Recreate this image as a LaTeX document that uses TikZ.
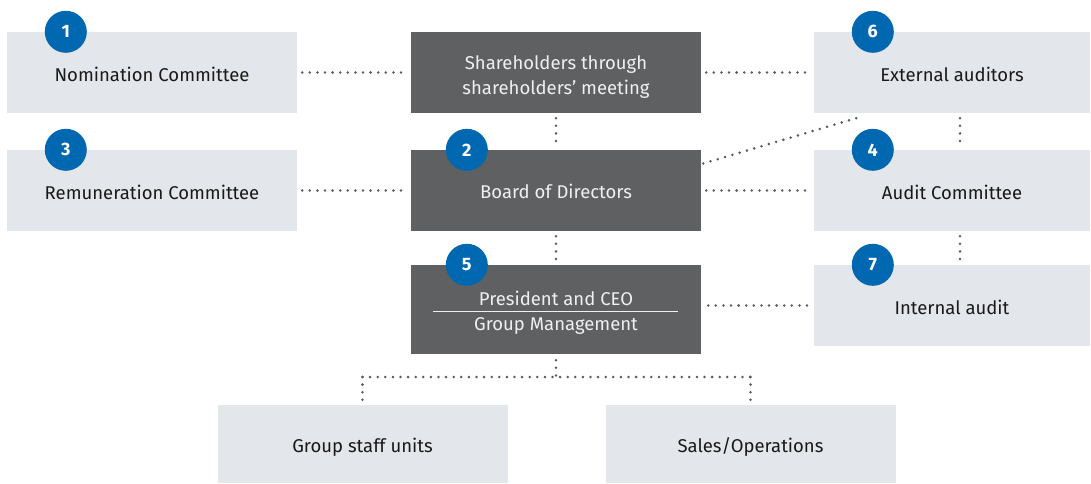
\documentclass[tikz,border=0pt]{standalone}
\usepackage{fontspec}
\setmainfont{Fira Sans}
\usetikzlibrary{positioning}
\definecolor{boxgray}{HTML}{E3E6EB}
\definecolor{darkgray}{HTML}{5F6062}
\definecolor{numblue}{HTML}{0067B1}
\definecolor{dotgray}{HTML}{525A66}
\tikzset{
  lightbox/.style={fill=boxgray, minimum width=290pt, minimum height=81pt, inner sep=0pt, text height=17pt, text depth=0pt, font=\fontsize{18.5}{22}\selectfont, text=black!90},
  darkbox/.style={fill=darkgray, minimum width=290pt, minimum height=81pt, inner sep=0pt, text height=16pt, text depth=0pt, align=center, font=\fontsize{18.5}{25}\selectfont, text=white!94!black},
  num/.style={circle, fill=numblue, minimum size=42pt, inner sep=0pt, text=white, font=\bfseries\fontsize{18}{18}\selectfont},
  dots/.style={dotgray, line width=2.8pt, line cap=round, dash pattern=on 0pt off 7.6pt}
}
\begin{document}
\begin{tikzpicture}[x=1pt, y=-1pt]
    \useasboundingbox (0, 0) rectangle (1091, 483);
    % boxes
    \node[lightbox] (nom) at (152, 72.5) {Nomination Committee};
    \node[lightbox] (rem) at (152, 190.5) {Remuneration Committee};
    \node[darkbox, text height=43pt] (share) at (556, 72.5) {Shareholders through\\shareholders' meeting};
    \node[darkbox] (board) at (556, 190.5) {Board of Directors};
    \node[darkbox, minimum height=89pt] (pres) at (556, 309.5) {};
    \node[text=white!94!black, font=\fontsize{18.5}{22}\selectfont, anchor=base] (ceo) at (556, 305) {President and CEO};
    \node[text=white!94!black, font=\fontsize{18.5}{22}\selectfont, anchor=base] (mgmt) at (556, 330) {Group Management};
    \draw[white!94!black, line width=1pt] (433, 311) -- (678, 311);
    \node[lightbox, minimum width=276pt] (ext) at (952, 72.5) {External auditors};
    \node[lightbox, minimum width=276pt] (audit) at (952, 190.5) {Audit Committee};
    \node[lightbox, minimum width=276pt] (int) at (952, 305.5) {Internal audit};
    \node[lightbox, minimum height=78pt] (staff) at (362.5, 444) {Group staff units};
    \node[lightbox, minimum height=78pt] (sales) at (750.5, 444) {Sales/Operations};

    % connectors
    \draw[dots, shorten <=5pt, shorten >=3pt] (nom) -- (share);
    \draw[dots, shorten <=5pt, shorten >=5pt] (share) -- (ext);
    \draw[dots, shorten <=5pt, shorten >=3pt] (rem) -- (board);
    \draw[dots, shorten <=5pt, shorten >=5pt] (board) -- (audit);
    \draw[dots, shorten <=5pt, shorten >=5pt] (share) -- (board);
    \draw[dots, shorten <=5pt, shorten >=5pt] (board) -- (556, 265);
    \draw[dots, shorten <=5pt, shorten >=5pt] (ext.south -| 960, 0) -- (audit.north -| 960, 0);
    \draw[dots, shorten <=5pt, shorten >=5pt] (audit.south -| 960, 0) -- (int.north -| 960, 0);
    \coordinate (diagA) at ([shift={(2,-27)}]board.east);
    \coordinate (diagB) at ([shift={(49,3)}]ext.south west);
    \draw[dots] (diagA) -- (diagB);
    \draw[dots, shorten <=7pt, shorten >=4pt] (pres.east |- int) -- (int.west);
    \coordinate (branch) at (556, 377);
    \draw[dots, shorten <=6pt] (pres.south) -- (branch);
    \draw[dots] (staff.north |- branch) -- (sales.north |- branch);
    \draw[dots, shorten >=5pt] (staff.north |- branch) -- (staff.north);
    \draw[dots, shorten >=5pt] (sales.north |- branch) -- (sales.north);

    % numbers
    \node[num] (n1) at ([xshift=59pt]nom.north west) {1};
    \node[num] (n3) at ([xshift=59pt]rem.north west) {3};
    \node[num] (n2) at ([xshift=56pt]board.north west) {2};
    \node[num] (n5) at ([xshift=56pt]pres.north west) {5};
    \node[num] (n6) at ([xshift=59pt]ext.north west) {6};
    \node[num] (n4) at ([xshift=59pt]audit.north west) {4};
    \node[num] (n7) at ([xshift=59pt]int.north west) {7};
\end{tikzpicture}
\end{document}
